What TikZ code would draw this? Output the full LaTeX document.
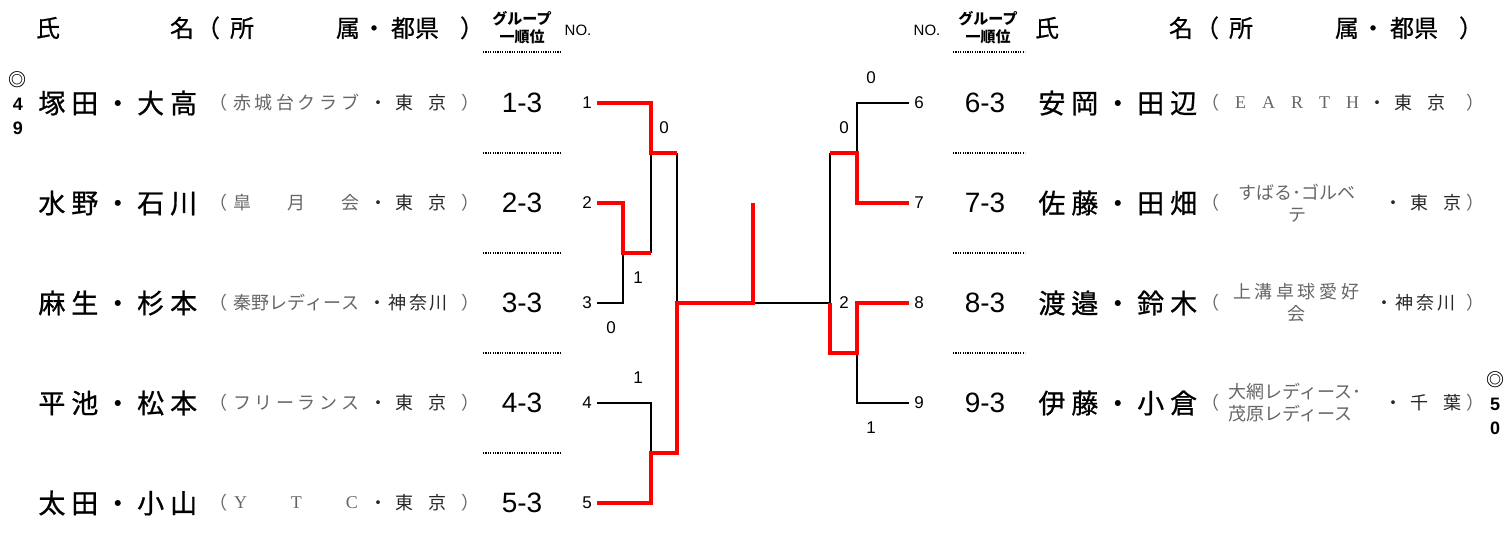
\documentclass[tikz,border=0pt]{standalone}
\usepackage{fontspec}
\setmainfont{Liberation Sans}
\newfontfamily\jp{Noto Sans CJK JP}
\newfontfamily\jphead[FakeBold=0.6]{Noto Sans CJK JP}
\newfontfamily\jpname[LetterSpace=22, FakeBold=0.8]{Noto Sans CJK JP}
\newfontfamily\clubserif{Liberation Serif}
\usepackage{tikz}

\tikzset{
  head/.style={font=\jphead\fontsize{12pt}{12pt}\selectfont, inner sep=0pt, anchor=base},
  subhead/.style={font=\jp\bfseries\fontsize{7.5pt}{9pt}\selectfont, inner sep=0pt, align=center},
  player/.style={font=\jpname\fontsize{13.5pt}{13.5pt}\selectfont, inner sep=0pt, anchor=west},
  club/.style={font=\jp\fontsize{9pt}{11pt}\selectfont, text=black!60, inner sep=0pt, align=center},
  paren/.style={font=\jp\fontsize{9pt}{9pt}\selectfont, text=black!60, inner sep=0pt},
  pref/.style={font=\jp\fontsize{9pt}{9pt}\selectfont, text=black!85, inner sep=0pt},
  rank/.style={font=\fontsize{14pt}{14pt}\selectfont, inner sep=0pt},
  num/.style={font=\fontsize{8.5pt}{8.5pt}\selectfont, inner ysep=0pt, inner xsep=2.5pt},
  score/.style={font=\fontsize{8.5pt}{8.5pt}\selectfont, inner sep=0pt},
  seed/.style={font=\jp\bfseries\fontsize{9pt}{12pt}\selectfont, inner sep=0pt, align=center},
  win/.style={red, line width=2pt},
  lose/.style={black, line width=0.65pt},
  dotline/.style={line width=0.6pt, dash pattern=on 0.6pt off 0.6pt},
}

\begin{document}
\begin{tikzpicture}[x=0.5pt, y=-0.5pt]
  \useasboundingbox (0,0) rectangle (1507,548);

  % headers
  \foreach \dx/\side in {0/l, 999/r} {
    \node[head] (\side hshi) at (48+\dx,37) {氏};
    \node[head] (\side hmei) at (182+\dx,37) {名};
    \node[head] (\side hpo) at (208+\dx,37) {（};
    \node[head] (\side hsho) at (242+\dx,37) {所};
    \node[head] (\side hzoku) at (348+\dx,37) {属};
    \node[head] (\side hdot) at (374+\dx,37) {・};
    \node[head] (\side hken) at (415+\dx,37) {都県};
    \node[head] (\side hpc) at (472+\dx,37) {）};
  }
  \node[subhead] (lgrp) at (522,28) {グループ\\一順位};
  \node[subhead] (rgrp) at (988,28) {グループ\\一順位};
  \node[score, font=\fontsize{7.5pt}{7.5pt}\selectfont] (lno) at (578,30) {NO.};
  \node[score, font=\fontsize{7.5pt}{7.5pt}\selectfont] (rno) at (927,30) {NO.};

  \foreach \y in {52,153,253,353,453} \draw[dotline] (483,\y) -- (560,\y);
  \foreach \y in {52,153,253,353} \draw[dotline] (953,\y) -- (1025,\y);

  % left block
  \foreach \i/\nm in {1/塚田・大高, 2/水野・石川, 3/麻生・杉本, 4/平池・松本, 5/太田・小山} {
    \node[player] (p\i) at (38,3+100*\i) {\nm};
    \node[paren] (po\i) at (218,3+100*\i) {（};
    \node[paren] (pc\i) at (470,3+100*\i) {）};
    \node[rank] (r\i) at (522,3+100*\i) {\i-3};
    \node[num] (n\i) at (587,3+100*\i) {\i};
  }
  \node[club] (c1) at (296,103) {\makebox[63pt]{赤\hfill 城\hfill 台\hfill ク\hfill ラ\hfill ブ}};
  \node[club] (c2) at (296,203) {\makebox[63pt]{皐\hfill 月\hfill 会}};
  \node[club] (c3) at (296,303) {\makebox[63pt]{秦\hfill 野\hfill レ\hfill デ\hfill ィ\hfill ー\hfill ス}};
  \node[club] (c4) at (296,403) {\makebox[63pt]{フ\hfill リ\hfill ー\hfill ラ\hfill ン\hfill ス}};
  \node[club, font=\clubserif\fontsize{9pt}{9pt}\selectfont] (c5) at (296,503) {\makebox[62pt]{Y\hfill T\hfill C}};
  \node[pref] (f1) at (408,103) {\makebox[38.5pt]{・\hfill 東\hfill\hfill 京}};
  \node[pref] (f2) at (408,203) {\makebox[38.5pt]{・\hfill 東\hfill\hfill 京}};
  \node[pref] (f3) at (408,303) {\makebox[40pt]{・\hfill 神\hfill 奈\hfill 川}};
  \node[pref] (f4) at (408,403) {\makebox[38.5pt]{・\hfill 東\hfill\hfill 京}};
  \node[pref] (f5) at (408,503) {\makebox[38.5pt]{・\hfill 東\hfill\hfill 京}};
  \node[seed] (s49) at (18,103) {◎\\{\normalfont\bfseries 4}\\{\normalfont\bfseries 9}};

  % right block
  \foreach \i/\nm in {6/安岡・田辺, 7/佐藤・田畑, 8/渡邉・鈴木, 9/伊藤・小倉} {
    \node[num] (n\i) at (919,3+100*\i-500) {\i};
    \node[rank] (r\i) at (985,3+100*\i-500) {\i-3};
    \node[player] (p\i) at (1038,3+100*\i-500) {\nm};
    \node[paren] (po\i) at (1210,3+100*\i-500) {（};
    \node[paren] (pc\i) at (1475,3+100*\i-500) {）};
  }
  \node[club, font=\clubserif\fontsize{9pt}{9pt}\selectfont] (c6) at (1297,103) {\makebox[62pt]{E\hfill A\hfill R\hfill T\hfill H}};
  \node[club] (c7) at (1297,203) {すばる･ゴルベ\\テ};
  \node[club] (c8) at (1296,303) {\makebox[63pt]{上\hfill 溝\hfill 卓\hfill 球\hfill 愛\hfill 好}\\会};
  \node[club, align=left, anchor=west] (c9) at (1228,403) {大網レディース･\\茂原レディース};
  \node[pref] (f6) at (1407,103) {\makebox[38.5pt]{・\hfill 東\hfill\hfill 京}};
  \node[pref] (f7) at (1423,203) {\makebox[38.5pt]{・\hfill 東\hfill\hfill 京}};
  \node[pref] (f8) at (1415,303) {\makebox[40pt]{・\hfill 神\hfill 奈\hfill 川}};
  \node[pref] (f9) at (1423,403) {\makebox[38.5pt]{・\hfill 千\hfill\hfill 葉}};
  \node[seed] (s50) at (1495,403) {◎\\{\normalfont\bfseries 5}\\{\normalfont\bfseries 0}};

  % bracket points
  \coordinate (ma) at (651,153);
  \coordinate (mb) at (623,253);
  \coordinate (mc) at (651,453);
  \coordinate (md) at (677,303);
  \coordinate (fl) at (753,303);
  \coordinate (fc) at (753,203);
  \coordinate (me) at (857,153);
  \coordinate (mf) at (857,353);
  \coordinate (mg) at (830,303);

  \draw[lose] (n3.east) -| (mb);
  \draw[lose] (ma) -- (ma |- mb);
  \draw[lose] (n4.east) -| (mc);
  \draw[lose] (md |- ma) -- (md);
  \draw[lose] (fl) -- (mg);
  \draw[lose] (n6.west) -| (me);
  \draw[lose] (n9.west) -| (mf);
  \draw[lose] (mg |- me) -- (mg);

  \draw[win] (n1.east) -| (ma) -- (md |- ma);
  \draw[win] (n2.east) -| (mb) -- (ma |- mb);
  \draw[win] (n5.east) -| (mc) -- (md |- mc) -- (md) -- (fl) -- (fc);
  \draw[win] (n7.west) -| (me) -- (mg |- me);
  \draw[win] (n8.west) -| (mf) -- (mg |- mf) -- (mg);

  % scores
  \node[score] (sc1) at (664,128) {0};
  \node[score] (sc2) at (638,278) {1};
  \node[score] (sc3) at (611,328) {0};
  \node[score] (sc4) at (638,378) {1};
  \node[score] (sc6) at (871,78) {0};
  \node[score] (sc7) at (844,128) {0};
  \node[score] (sc8) at (844,303) {2};
  \node[score] (sc9) at (871,428) {1};
\end{tikzpicture}
\end{document}
